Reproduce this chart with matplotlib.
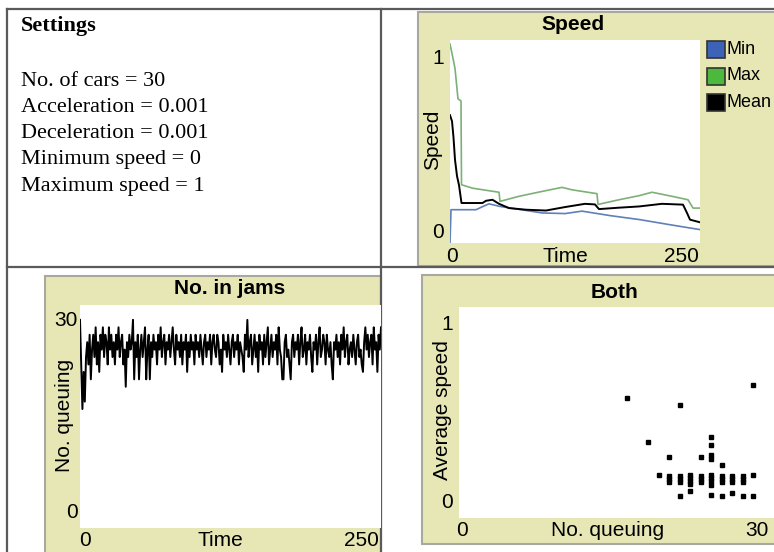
import matplotlib
matplotlib.use("Agg")
import matplotlib.pyplot as plt
from matplotlib.patches import Rectangle

W, H = 774, 552

# settings text
settings_lines = ["No. of cars = 30", "Acceleration = 0.001", "Deceleration = 0.001",
                  "Minimum speed = 0", "Maximum speed = 1"]

# speed plot (time, value) vertices
max_t = [0, 3, 5, 8, 11, 11.5, 22.6, 49, 50, 69, 92, 112, 122, 147, 148, 169, 189, 202, 222, 238, 243, 250]
max_v = [0.98, 0.91, 0.86, 0.71, 0.70, 0.287, 0.27, 0.25, 0.205, 0.23, 0.254, 0.274, 0.262, 0.243, 0.19,
         0.213, 0.233, 0.25, 0.23, 0.213, 0.172, 0.172]
mean_t = [0, 2, 3.5, 5, 7, 9, 11.5, 32.5, 36, 42.5, 49, 59, 76, 96, 115, 135, 145, 149, 169, 189,
          212, 233, 237, 240, 250]
mean_v = [0.63, 0.6, 0.52, 0.41, 0.33, 0.285, 0.197, 0.197, 0.208, 0.213, 0.193, 0.172, 0.164, 0.16,
          0.177, 0.193, 0.19, 0.167, 0.174, 0.18, 0.193, 0.189, 0.148, 0.115, 0.102]
min_t = [0, 1, 26, 33, 39, 50, 70, 92, 115, 132, 160, 190, 220, 250]
min_v = [0.0, 0.164, 0.164, 0.18, 0.193, 0.18, 0.165, 0.148, 0.145, 0.157, 0.135, 0.115, 0.09, 0.066]

# no. in jams, one value per tick 0..250
jams = [28, 22, 16, 21, 17, 23, 25, 22, 26, 20,
        24, 26, 23, 27, 22, 25, 21, 26, 24, 27,
        23, 26, 25, 22, 27, 24, 26, 23, 25, 22,
        26, 24, 27, 23, 25, 26, 22, 24, 19, 25,
        23, 26, 24, 25, 28, 20, 25, 23, 26, 20,
        24, 26, 23, 25, 27, 20, 24, 26, 20, 25,
        23, 26, 24, 25, 22, 26, 24, 27, 23, 25,
        26, 22, 25, 24, 26, 23, 25, 27, 24, 22,
        26, 24, 25, 23, 26, 22, 25, 24, 26, 21,
        25, 23, 26, 24, 25, 22, 26, 24, 25, 23,
        26, 24, 22, 25, 26, 23, 25, 24, 26, 22,
        25, 26, 24, 23, 26, 25, 22, 24, 21, 26,
        24, 25, 23, 26, 24, 22, 25, 26, 23, 25,
        24, 26, 22, 25, 24, 23, 21, 26, 24, 28,
        23, 25, 26, 22, 24, 26, 23, 25, 21, 26,
        24, 25, 22, 26, 23, 25, 27, 22, 24, 26,
        23, 25, 24, 26, 22, 27, 24, 23, 20, 20,
        25, 26, 23, 24, 22, 20, 25, 26, 23, 25,
        24, 26, 22, 25, 27, 23, 24, 26, 22, 25,
        24, 26, 23, 21, 25, 24, 26, 22, 25, 27,
        23, 24, 26, 25, 22, 26, 24, 23, 25, 22,
        20, 25, 24, 26, 23, 25, 22, 26, 24, 27,
        23, 25, 26, 22, 24, 25, 23, 26, 24, 22,
        25, 26, 23, 24, 22, 21, 25, 27, 24, 26,
        23, 25, 26, 22, 27, 24, 25, 21, 26, 24,
        27]

# both: queue length vs average speed
both_q = [16, 21, 28, 18, 20, 23, 24, 24, 24, 24, 25, 19,
          20, 20, 20, 21, 21, 21, 22, 22, 22, 22, 23, 23, 23, 24, 24, 24, 24,
          25, 25, 25, 26, 26, 26, 27, 27, 27, 28,
          21, 22, 24, 25, 26, 27, 28]
both_v = [0.567, 0.535, 0.63, 0.362, 0.287, 0.287, 0.386, 0.346, 0.30, 0.28, 0.252, 0.205,
          0.20, 0.185, 0.17, 0.197, 0.185, 0.17, 0.205, 0.19, 0.175, 0.16, 0.20, 0.185, 0.17,
          0.205, 0.19, 0.175, 0.155, 0.20, 0.185, 0.17, 0.20, 0.185, 0.17, 0.20, 0.185, 0.17, 0.205,
          0.105, 0.13, 0.11, 0.105, 0.118, 0.102, 0.102]

panel_bg = "#e7e7b6"
panel_edge = "#a8a8a0"
table_col = "#5a5a5a"
blue = "#3d63b8"
green = "#4cb83c"
sans = ["Liberation Sans", "DejaVu Sans"]
serif = ["Liberation Serif", "DejaVu Serif"]
FS = 15

fig = plt.figure(figsize=(W / 100, H / 100), dpi=100)
fig.patch.set_facecolor("white")

bg = fig.add_axes([0, 0, 1, 1])
bg.set_xlim(0, W)
bg.set_ylim(H, 0)
bg.axis("off")


def px_axes(x0, y0, x1, y1):
    ax = fig.add_axes([x0 / W, 1 - y1 / H, (x1 - x0) / W, (y1 - y0) / H])
    ax.set_facecolor("white")
    for s in ax.spines.values():
        s.set_visible(False)
    ax.set_xticks([])
    ax.set_yticks([])
    return ax


def txt(x, y, s, size=FS, ha="center", va="center", **kw):
    bg.text(x, y, s, fontsize=size, ha=ha, va=va, family=kw.pop("family", sans), **kw)


# panel backgrounds
for (x0, y0, x1, y1) in [(418, 12, 780, 266), (45, 276, 381, 560), (422, 275, 780, 544)]:
    bg.add_patch(Rectangle((x0, y0), x1 - x0, y1 - y0, facecolor=panel_bg,
                           edgecolor=panel_edge, lw=1.5))

# table lines
bg.plot([7, W], [9, 9], color=table_col, lw=1.6)
bg.plot([7, W], [267, 267], color=table_col, lw=1.6)
bg.plot([7, 7], [9, H], color=table_col, lw=1.6)
bg.plot([381, 381], [9, H], color=table_col, lw=1.6)

# settings
txt(21, 26, "Settings", size=16, ha="left", family=serif, weight="bold")
for i, line in enumerate(settings_lines):
    txt(21, 81 + i * 26.3, line, size=16, ha="left", family=serif)

# speed panel
ax1 = px_axes(450, 40, 700, 243)
ax1.plot(min_t, min_v, color="#5f80b8", lw=1.2)
ax1.plot(max_t, max_v, color="#7db076", lw=1.2)
ax1.plot(mean_t, mean_v, color="black", lw=1.4)
ax1.set_xlim(0, 250)
ax1.set_ylim(0, 1)
txt(573, 25, "Speed", weight="bold")
txt(433, 140, "Speed", rotation=90)
txt(438, 58, "1")
txt(438, 233, "0")
txt(452, 256, "0")
txt(565, 256, "Time")
txt(699, 256, "250", ha="right")
for i, (name, c) in enumerate([("Min", blue), ("Max", green), ("Mean", "black")]):
    yy = 41 + i * 26.5
    bg.add_patch(Rectangle((707, yy), 18, 17, facecolor=c, edgecolor="#333333", lw=1.2))
    txt(727, yy + 8.5, name, size=13, ha="left")

# no. in jams panel
ax2 = px_axes(80, 305, 381, 528)
ax2.plot(range(len(jams)), jams, color="black", lw=1.4)
ax2.set_xlim(0, 250)
ax2.set_ylim(0, 30)
txt(230, 288, "No. in jams", weight="bold")
txt(65, 415, "No. queuing", rotation=90)
txt(78, 320, "30", ha="right")
txt(78, 513, "0", ha="right")
txt(85, 540, "0")
txt(220, 540, "Time")
txt(379, 540, "250", ha="right")

# both panel
ax3 = px_axes(459, 307, W, 518)
ax3.plot(both_q, both_v, ls="none", marker="s", ms=2.2, color="black")
ax3.set_xlim(0, 30)
ax3.set_ylim(0, 1)
txt(615, 292, "Both", weight="bold")
txt(443, 410, "Average speed", rotation=90)
txt(447, 325, "1")
txt(447, 503, "0")
txt(462, 530, "0")
txt(608, 530, "No. queuing")
txt(769, 530, "30", ha="right")

fig.savefig("out.png", dpi=100)
